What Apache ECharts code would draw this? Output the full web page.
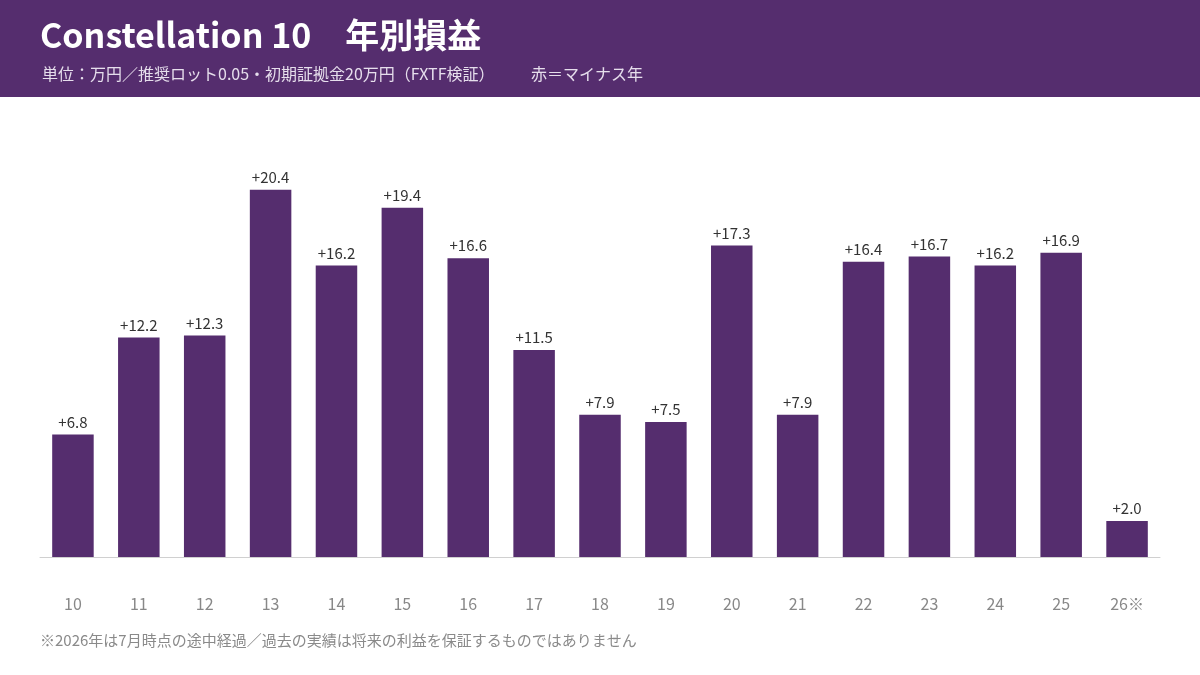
<!DOCTYPE html>
<html>
<head>
<meta charset="utf-8">
<script src="https://cdn.jsdelivr.net/npm/echarts@6/dist/echarts.min.js"></script>
<style>
  html, body { margin: 0; padding: 0; background: #fff; }
  #container { width: 1200px; height: 675px; }
</style>
</head>
<body>
<div id="container"></div>
<script>
// 年別損益（万円）
var years = ['10', '11', '12', '13', '14', '15', '16', '17', '18', '19', '20', '21', '22', '23', '24', '25', '26※'];
var profits = [6.8, 12.2, 12.3, 20.4, 16.2, 19.4, 16.6, 11.5, 7.9, 7.5, 17.3, 7.9, 16.4, 16.7, 16.2, 16.9, 2.0];

var purple = '#552d6e';
var font = '"Noto Sans CJK JP", "Noto Sans", sans-serif';

var myChart = echarts.init(document.getElementById('container'));
var option = {
    backgroundColor: '#fff',
    animation: false,
    textStyle: { fontFamily: font },
    graphic: [
        {
            type: 'rect',
            shape: { x: 0, y: 0, width: 1200, height: 97 },
            style: { fill: purple },
            z: 0
        },
        {
            type: 'text',
            left: 40, top: 18,
            style: {
                text: 'Constellation 10　年別損益',
                fill: '#fff',
                font: 'bold 34px ' + font
            }
        },
        {
            type: 'text',
            left: 42, top: 66,
            style: {
                text: '単位：万円／推奨ロット0.05・初期証拠金20万円（FXTF検証）',
                fill: '#e6deec',
                font: '16px ' + font
            }
        },
        {
            type: 'text',
            left: 531, top: 66,
            style: {
                text: '赤＝マイナス年',
                fill: '#e6deec',
                font: '16px ' + font
            }
        },
        {
            type: 'text',
            left: 40, top: 633,
            style: {
                text: '※2026年は7月時点の途中経過／過去の実績は将来の利益を保証するものではありません',
                fill: '#8a8a8a',
                font: '15px ' + font
            }
        }
    ],
    grid: {
        left: 40,
        right: 40,
        top: 125,
        bottom: 118
    },
    xAxis: {
        type: 'category',
        data: years,
        axisLine: { lineStyle: { color: '#d0d0d0', width: 1 } },
        axisTick: { show: false },
        axisLabel: {
            color: '#888',
            fontSize: 16,
            margin: 39
        }
    },
    yAxis: {
        type: 'value',
        min: 0,
        max: 24,
        show: false,
        splitLine: { show: false }
    },
    series: [
        {
            type: 'bar',
            data: profits,
            barWidth: '63%',
            itemStyle: { color: purple },
            label: {
                show: true,
                position: 'top',
                distance: 5,
                color: '#333',
                fontSize: 15,
                formatter: function (p) {
                    return (p.value >= 0 ? '+' : '') + p.value.toFixed(1);
                }
            }
        }
    ]
};
myChart.setOption(option);
</script>
</body>
</html>
